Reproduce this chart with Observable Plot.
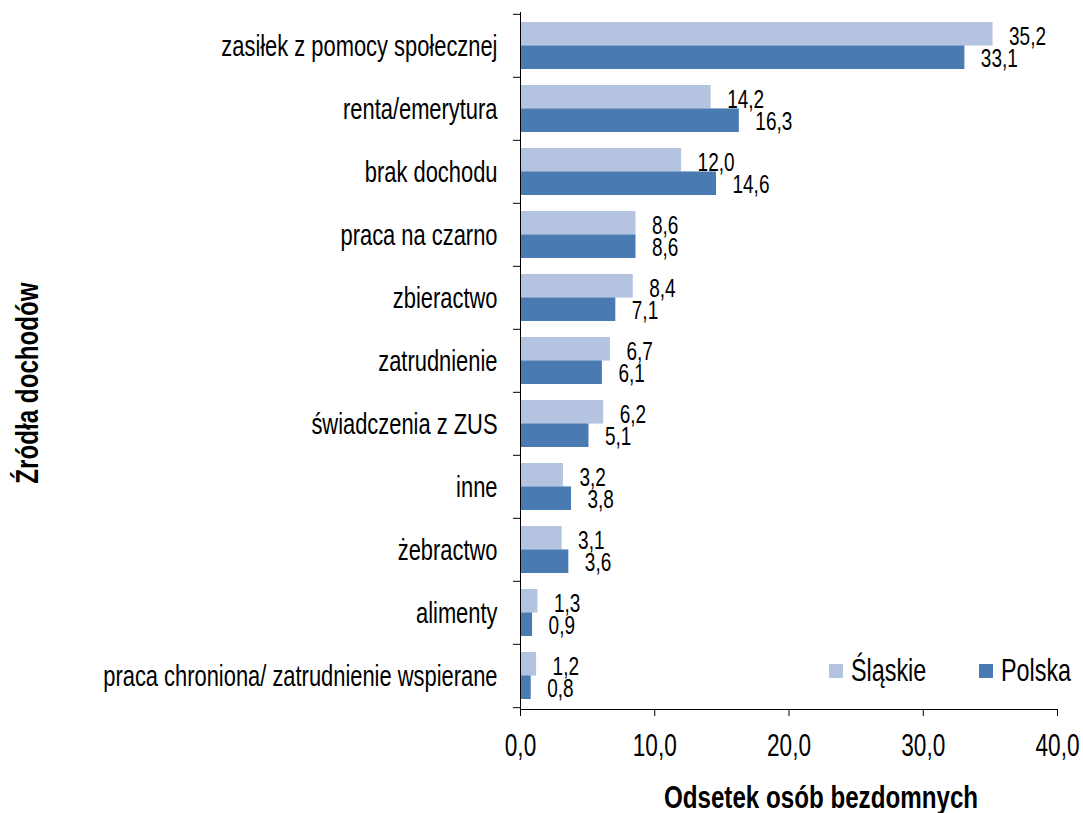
<!DOCTYPE html>
<html>
<head>
<meta charset="utf-8">
<script src="https://cdn.jsdelivr.net/npm/d3@7"></script>
<script src="https://cdn.jsdelivr.net/npm/@observablehq/plot@0.6"></script>
<style>
  html, body { margin: 0; padding: 0; background: #fff; }
  #wrap { position: relative; width: 1083px; height: 813px; font-family: 'Liberation Sans', Arial, sans-serif; }
  .item { position: absolute; top: 652px; height: 37px; display: flex; align-items: center; font-size: 32px; color: #000; white-space: nowrap; }
  .sw { display: inline-block; width: 14px; height: 14px; margin-right: 8px; flex: none; }
  .lbl { display: inline-block; transform: scaleX(0.73); transform-origin: left center; }
</style>
</head>
<body>
<div id="wrap"></div>
<script>
const categories = [
  "zasiłek z pomocy społecznej",
  "renta/emerytura",
  "brak dochodu",
  "praca na czarno",
  "zbieractwo",
  "zatrudnienie",
  "świadczenia z ZUS",
  "inne",
  "żebractwo",
  "alimenty",
  "praca chroniona/ zatrudnienie wspierane"
];
const slaskie = [35.2, 14.2, 12.0, 8.6, 8.4, 6.7, 6.2, 3.2, 3.1, 1.3, 1.2];
const polska  = [33.1, 16.3, 14.6, 8.6, 7.1, 6.1, 5.1, 3.8, 3.6, 0.9, 0.8];
const seriesNames = ["Śląskie", "Polska"];
const xTicks = [0, 10, 20, 30, 40];
const xLabel = "Odsetek osób bezdomnych";
const yLabel = "Źródła dochodów";

const colors = ["#B4C3DF", "#4A7AB2"];
const rows = categories.map((c, i) => ({cat: c, slaskie: slaskie[i], polska: polska[i]}));
const fmt = d => d.toFixed(1).replace(".", ",");

const W = 1083, H = 813, mT = 12, mB = 104, mL = 520, mR = 26;
const pInner = 0.26, pOuter = 0.13;
const step = (H - mT - mB) / (categories.length - pInner + 2 * pOuter);
const bw = step * (1 - pInner);

const chart = Plot.plot({
  width: W, height: H,
  marginTop: mT, marginBottom: mB, marginLeft: mL, marginRight: mR,
  style: {fontFamily: "'Liberation Sans', Arial, sans-serif", fontSize: "30px", color: "#000", background: "#fff"},
  x: {domain: [0, 40]},
  y: {domain: categories, paddingInner: pInner, paddingOuter: pOuter},
  marks: [
    Plot.barX(rows, {x: "slaskie", y: "cat", fill: colors[0], insetBottom: bw / 2}),
    Plot.barX(rows, {x: "polska", y: "cat", fill: colors[1], insetTop: bw / 2}),
    Plot.text(rows, {x: "slaskie", y: "cat", text: d => fmt(d.slaskie), dx: 16, dy: -bw / 4 + 2, textAnchor: "start", fontSize: 26, fill: "#000"}),
    Plot.text(rows, {x: "polska", y: "cat", text: d => fmt(d.polska), dx: 16, dy: bw / 4 + 1, textAnchor: "start", fontSize: 26, fill: "#000"}),
    Plot.axisY({tickSize: 0, tickPadding: 23, fontSize: 30, label: null}),
    Plot.axisY({tickSize: 7, text: null, dy: -step / 2, label: null, stroke: "#000"}),
    Plot.axisY([categories[categories.length - 1]], {tickSize: 7, text: null, dy: step / 2, label: null, stroke: "#000"}),
    Plot.axisX({ticks: xTicks, tickFormat: fmt, tickSize: 7, tickPadding: 17, fontSize: 31, label: null, stroke: "#000"}),
    Plot.frame({anchor: "left", stroke: "#000"}),
    Plot.frame({anchor: "bottom", stroke: "#000"}),
    Plot.text([yLabel], {text: d => d, frameAnchor: "left", textAnchor: "middle", lineAnchor: "middle", dx: -492, dy: 22, rotate: -90, fontWeight: "bold", fontSize: 31, fill: "#000"}),
    Plot.text([xLabel], {text: d => d, frameAnchor: "bottom", textAnchor: "middle", lineAnchor: "middle", dx: 32, dy: 89, fontWeight: "bold", fontSize: 31, fill: "#000"})
  ]
});

// condense glyphs horizontally (narrow typeface look), keeping each text's anchor in place
chart.querySelectorAll("text").forEach(el => {
  const g = el.closest("[font-weight]");
  const s = g && g.getAttribute("font-weight") === "bold" ? 0.78 : 0.73;
  const x = +(el.getAttribute("x") || 0);
  const t = el.getAttribute("transform") || "";
  el.setAttribute("transform", `${t} translate(${x},0) scale(${s},1) translate(${-x},0)`);
});

const wrap = document.getElementById("wrap");
wrap.appendChild(chart);

const legendLeft = [829, 979];
seriesNames.forEach((n, i) => {
  const it = document.createElement("div");
  it.className = "item";
  it.style.left = legendLeft[i] + "px";
  const sw = document.createElement("span");
  sw.className = "sw";
  sw.style.background = colors[i];
  const lb = document.createElement("span");
  lb.className = "lbl";
  lb.textContent = n;
  it.appendChild(sw);
  it.appendChild(lb);
  wrap.appendChild(it);
});
</script>
</body>
</html>
